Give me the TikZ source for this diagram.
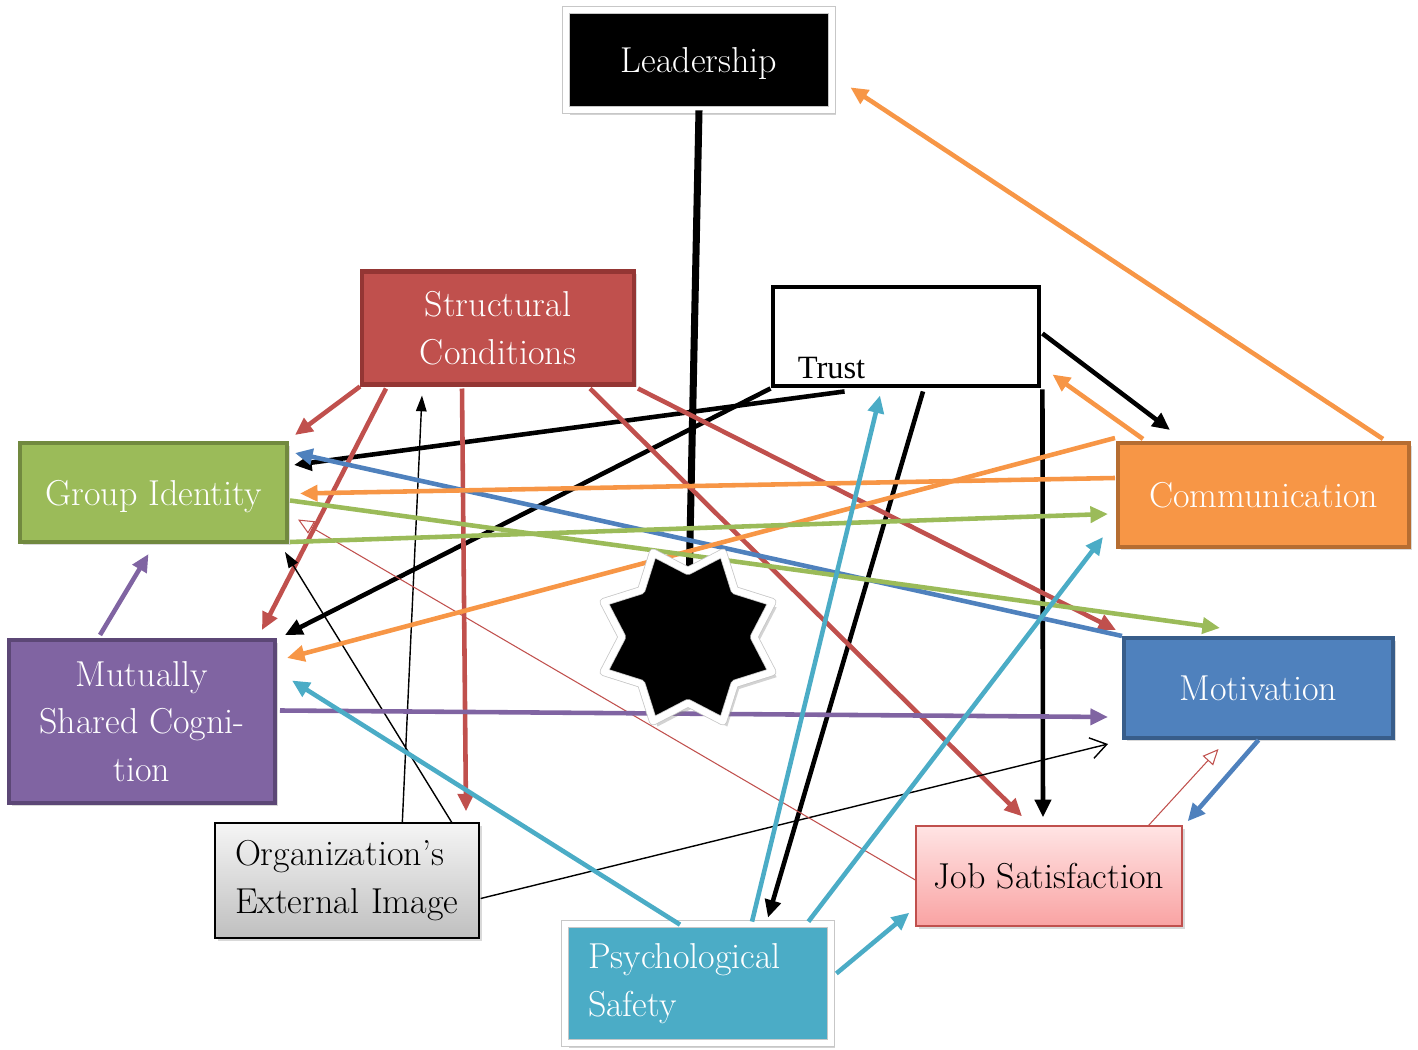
\documentclass[tikz,border=0pt]{standalone}
\usepackage{fontspec}
\newfontfamily\trustfont{Liberation Serif}
\usetikzlibrary{shapes.geometric,shadows,calc,arrows.meta}

\definecolor{scred}{HTML}{C0504D}
\definecolor{scredd}{HTML}{943634}
\definecolor{gigreen}{HTML}{9BBB59}
\definecolor{gigreend}{HTML}{71893F}
\definecolor{comorange}{HTML}{F79646}
\definecolor{comoranged}{HTML}{B66D31}
\definecolor{mscpurple}{HTML}{8064A2}
\definecolor{mscpurpled}{HTML}{5C4776}
\definecolor{motblue}{HTML}{4F81BD}
\definecolor{motblued}{HTML}{385D8A}
\definecolor{psteal}{HTML}{4BACC6}
\definecolor{jstop}{HTML}{FFE4E4}
\definecolor{jsbot}{HTML}{F9A3A3}

\tikzset{
  box/.style={draw, line width=2.3pt, inner sep=0pt, align=center, text=white,
    font=\fontsize{20.5}{27}\selectfont, text depth=0pt,
    drop shadow={opacity=0.3, shadow xshift=1.5pt, shadow yshift=-1.5pt}},
  framed/.style={draw=black!22, double=white, double distance=3.8pt, line width=0.45pt,
    drop shadow={opacity=0.35, shadow xshift=2.5pt, shadow yshift=-3pt}},
  link/.style={line width=2.6pt, -{Triangle[length=10pt,width=9pt]}},
  thinlink/.style={line width=0.8pt, -{Triangle[length=9pt,width=6pt]}},
}

\begin{document}
\begin{tikzpicture}[x=0.02cm, y=-0.02cm]
\useasboundingbox (0,0) rectangle (1418,1050);

% boxes
\node[box, framed, fill=black, minimum width=5.32cm, minimum height=2cm] (lead) at (699,60) {Leadership};
\node[box, fill=scred, draw=scredd, minimum width=5.44cm, minimum height=2.26cm] (sc) at (498,328) {Structural\\Conditions};
\node[draw, line width=2.8pt, fill=white, minimum width=5.32cm, minimum height=1.98cm] (trust) at (906,336.5) {};
\node[anchor=base west, font=\trustfont\fontsize{18.5}{22}\selectfont] (trusttxt) at ($(trust.south west)+(21,-10)$) {Trust};
\node[box, fill=gigreen, draw=gigreend, minimum width=5.34cm, minimum height=1.98cm] (gi) at (153.5,492.5) {Group Identity};
\node[box, fill=comorange, draw=comoranged, minimum width=5.82cm, minimum height=2.08cm] (comm) at (1263.5,495) {Communication};
\node[box, fill=mscpurple, draw=mscpurpled, minimum width=5.32cm, minimum height=3.26cm] (msc) at (142,721.5) {Mutually\\Shared Cogni-\\tion};
\node[box, fill=motblue, draw=motblued, minimum width=5.38cm, minimum height=2cm] (mot) at (1258.5,688) {Motivation};
\node[box, text=black, line width=0.8pt, top color=black!4, bottom color=black!25, align=left, text depth=,
  text width=4.48cm, inner xsep=0.4cm, minimum height=2.3cm] (oei) at (347,880.5) {Organization’s\\External Image};
\node[box, text=black, line width=0.8pt, draw=scred, top color=jstop, bottom color=jsbot, minimum width=5.32cm, minimum height=2cm] (js) at (1049,876) {Job Satisfaction};
\node[box, framed, fill=psteal, align=left, text depth=,
  text width=4.4cm, inner xsep=0.46cm, minimum height=2.38cm] (ps) at (698,983.5) {Psychological\\Safety};
\coordinate (corec) at (688,637);

% connectors
\draw[line width=4pt] (lead.south) -- (corec);
\draw[link, comorange] ($(comm.north east)+(-28,-2)$) -- ($(lead.south east)+(18,-23)$);
\draw[link, comorange] ($(comm.north west)+(27,-2)$) -- ($(trust.south east)+(11,-14)$);
\draw[link, black] ($(trust.east)+(1,-3)$) -- ($(comm.north west)+(54,-11)$);
\draw[link, black] ($(trust.south west)+(74,3)$) -- ($(gi.north east)+(5,24)$);
\draw[link, black] (trust.south west) -- ($(msc.north east)+(8,-3)$);
\draw[link, black] ($(trust.south)+(17,3)$) -- ($(ps.north)+(70,-6)$);
\draw[link, black] ($(trust.south east)+(1,1)$) -- ($(js.north)+(-6,-8)$);
\draw[link, scred] (sc.south west) -- ($(gi.north east)+(6,-6)$);
\draw[link, scred] ($(sc.south west)+(26,2)$) -- ($(msc.north east)+(-15,-8)$);
\draw[link, scred] ($(sc.south west)+(102,2)$) -- ($(oei.north)+(119,-11)$);
\draw[link, scred] ($(sc.south)+(92,2)$) -- ($(js.north)+(-27,-9)$);
\draw[link, scred] ($(sc.south east)+(2,2)$) -- ($(mot.north west)+(-6,-6)$);
\draw[thinlink] ($(oei.north west)+(188,0)$) -- ($(sc.south west)+(62,9)$);
\draw[thinlink] ($(oei.north east)+(-28,0)$) -- ($(gi.south east)+(-4,8)$);
\draw[line width=0.8pt, -{Straight Barb[length=9pt,width=12pt]}] ($(oei.east)+(1,18)$) -- ($(mot.south west)+(-14,4)$);
\draw[scred, line width=0.6pt, -{Triangle[open,length=9pt,width=8pt]}] ($(js.west)+(0,4)$) -- ($(gi.east)+(9,27)$);
\draw[scred, line width=0.6pt, -{Triangle[open,length=9pt,width=8pt]}] ($(js.north east)+(-34,0)$) -- ($(mot.south)+(-40,9)$);
\draw[link, motblue] (mot.south) -- ($(js.north east)+(5,-4)$);
\draw[link, motblue] (mot.north west) -- ($(gi.north east)+(6,12)$);
\draw[link, comorange] ($(comm.west)+(-1,-17)$) -- ($(gi.east)+(11,1)$);
\draw[link, comorange] ($(comm.north west)+(-1,-3)$) -- ($(msc.north east)+(10,20)$);
\draw[link, gigreen] ($(gi.east)+(1,8)$) -- ($(mot.north west)+(98,-8)$);
\draw[link, gigreen] ($(gi.south east)+(1,-2)$) -- ($(comm.west)+(-8,19)$);
\draw[link, mscpurple] ($(msc.east)+(3,-11)$) -- ($(mot.west)+(-14,29)$);
\draw[link, mscpurple] ($(msc.north)+(-42,-3)$) -- ($(gi.south)+(-5,10)$);
\draw[link, psteal] ($(ps.north)+(-18,1)$) -- ($(msc.east)+(15,-41)$);
\draw[link, psteal] ($(ps.north)+(54,-2)$) -- ($(trust.south)+(-26,7)$);
\draw[link, psteal] ($(ps.north east)+(-23,-2)$) -- ($(comm.south west)+(-13,-12)$);
\draw[link, psteal] ($(ps.east)+(5,-10)$) -- ($(js.south west)+(-6,-14)$);

% the star
\node[star, star points=8, star point ratio=1.38, minimum size=3.65cm, inner sep=0pt,
  fill=black, framed, line join=round, shape border rotate=22.5] (core) at (corec) {};
\end{tikzpicture}
\end{document}
